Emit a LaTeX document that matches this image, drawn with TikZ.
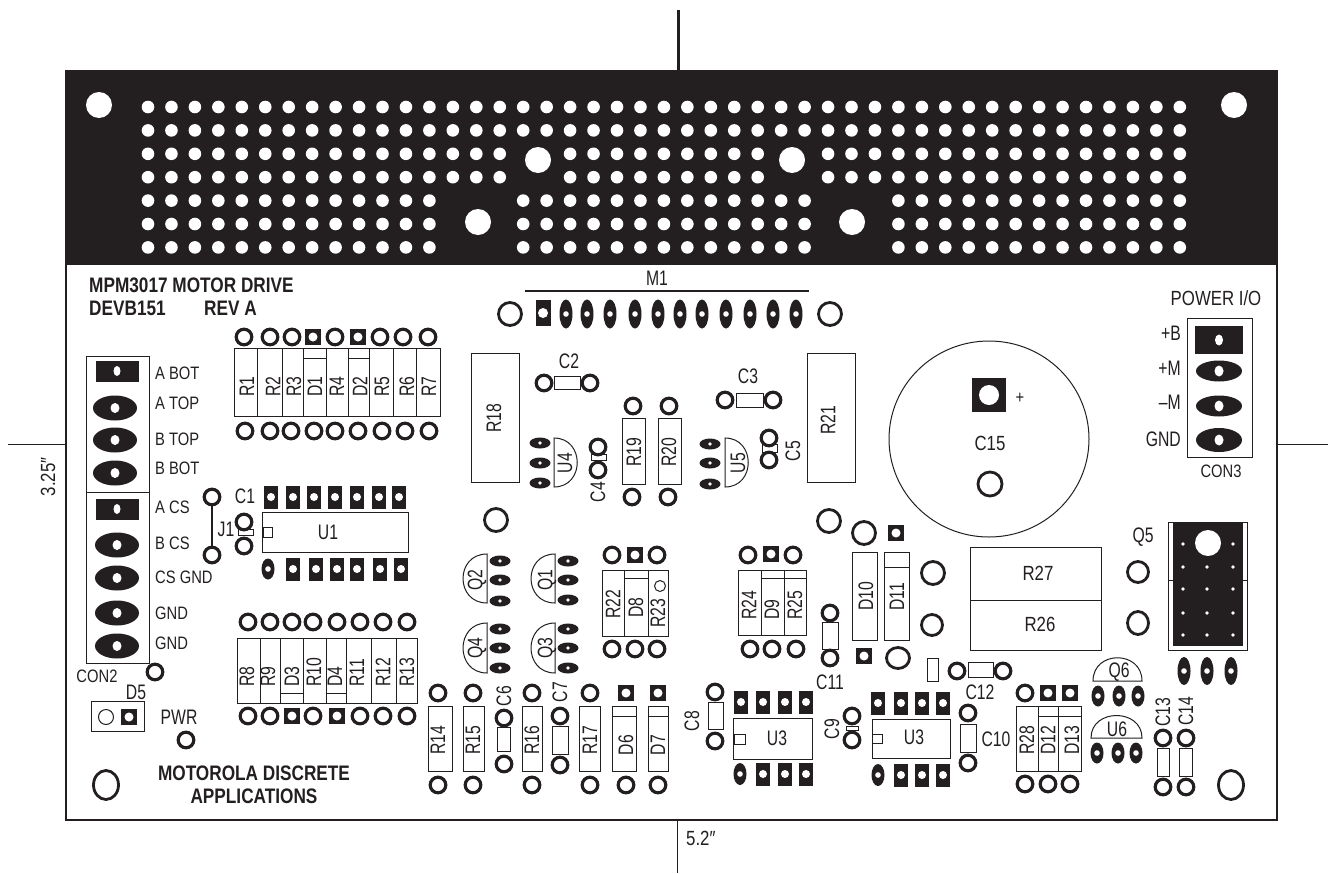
\documentclass[tikz,border=0pt]{standalone}
\usepackage{fontspec}
\setmainfont[FakeStretch=0.82]{Liberation Sans}
\newfontfamily\tallfont[FakeStretch=0.75]{Liberation Sans}
\definecolor{ink}{HTML}{231F20}
\tikzset{
  lbl/.style={inner sep=0pt, text=ink, font=\tallfont\fontsize{21}{21}\selectfont},
  lblcon/.style={inner sep=0pt, text=ink, font=\fontsize{18}{18}\selectfont},
  lblwide/.style={inner sep=0pt, text=ink, font=\fontsize{20.5}{21}\selectfont},
  lblbf/.style={inner sep=0pt, text=ink, font=\fontsize{21}{23}\selectfont\bfseries, align=center},
  vlbl/.style={lbl, rotate=90},
  vlblb/.style={lbl, rotate=90, anchor=west},
  partbox/.style={draw=ink, fill=white, line width=1pt},
  ringpad/.style={draw=ink, fill=white, line width=3.2pt},
  thinline/.style={draw=ink, line width=1pt}
}
\begin{document}
\begin{tikzpicture}[x=1pt,y=-1pt]
    \useasboundingbox (0,0) rectangle (1328,873);
    % board and dimension lines
    \draw[ink, line width=1.2pt] (66,71) rectangle (1277,820);
    \fill[ink] (66,71) rectangle (1277,265);
    \draw[ink, line width=3pt] (678,10) -- (678,71);
    \draw[thinline] (677,820) -- (677,873);
    \draw[thinline] (8,444) -- (66,444);
    \draw[thinline] (1277,444) -- (1328,444);
    \node[lblwide, rotate=90] (height) at (48,477) {3.25″};
    \node[lblwide, anchor=west] (width) at (686,838) {5.2″};
    % holes in the black strip
    \foreach \r/\from/\to in {0/0/44, 1/0/44, 2/0/15, 2/18/26, 2/29/44, 3/0/15, 3/18/26, 3/29/44,
      4/0/12, 4/16/28, 4/32/44, 5/0/12, 5/16/28, 5/32/44, 6/0/12, 6/16/28, 6/32/44}
    {
      \foreach \c in {\from,...,\to}
        \fill[white] ({148+23.45*\c},{107+23.4*\r}) circle (6.3);
    }
    \foreach \x/\y in {99/105, 1234/105, 538/160, 792/160, 478/222, 852/222}
      \fill[white] (\x,\y) circle (13);
    % title texts
    \node[lblbf, anchor=west] (title) at (89,285) {MPM3017 MOTOR DRIVE};
    \node[lblbf, anchor=west] (devb) at (89,308) {DEVB151};
    \node[lblbf, anchor=west] (rev) at (204,308) {REV A};
    \node[lblbf] (maker) at (254,785) {MOTOROLA DISCRETE\\APPLICATIONS};
    % part outlines
    \foreach \a/\b/\c/\d in {
      234/348/257/416, 257/348/282/416, 282/348/303/416, 303/348/326/416, 326/348/348/416,
      348/348/369/416, 369/348/393/416, 393/348/416/416, 416/348/440/416,
      237/638/260/703, 260/638/280/703, 280/638/303/703, 303/638/326/703, 326/638/346/703,
      346/638/371/703, 371/638/396/703, 396/638/417/703,
      428/706/452/771, 463/706/484/771, 522/706/542/771, 579/706/600/771, 612/706/636/771, 648/706/668/771,
      497/727/510/751, 552/726/568/754, 708/702/723/729,
      471/353/519/482, 807/353/855/482, 622/418/645/484, 658/418/681/484,
      554/376/580/389, 736/393/763/407, 591/454/606/460, 762/444/777/452,
      602/570/624/636, 624/570/648/636, 648/570/668/636,
      738/570/761/635, 761/570/784/635, 784/570/806/635, 822/622/838/649,
      262/512/408/552, 263/527/272/537, 238/529/253/535,
      733/718/812/759, 734/734/745/744, 872/719/950/758, 872/734/882/743,
      846/726/858/730, 960/724/976/752, 968/662/993/677, 927/658/938/681,
      1016/706/1038/771, 1038/706/1058/771, 1058/706/1081/771,
      852/552/877/640, 884/552/909/640, 970/547/1101/600, 970/600/1101/650,
      1157/748/1169/776, 1179/748/1192/776,
      86/356/149/492, 86/492/149/663, 91/701/144/731, 1187/318/1252/457}
      \draw[partbox] (\a,\b) rectangle (\c,\d);
    % diode bars
    \foreach \a/\b/\y in {303/326/358, 348/369/358, 280/303/693, 326/346/693, 612/636/716, 648/668/716,
      624/648/578, 761/806/578, 1038/1081/716, 884/909/567}
      \draw[thinline] (\a,\y) -- (\b,\y);
    % capacitor C15
    \draw[thinline] (989,439) ellipse (100 and 98);
    % half round parts, flat side first
    \foreach \f/\t/\b/\c in {487/554/603/455, 555/554/603/523, 487/623/673/455, 555/623/673/523,
      554/438/487/585, 725/438/487/756}
      \draw[thinline] (\f,\t) .. controls (\c,\t) and (\c,\b) .. (\f,\b) -- cycle;
    \draw[thinline] (1093,681) .. controls (1093,650) and (1142,650) .. (1142,681) -- cycle;
    \draw[thinline] (1091,738) .. controls (1091,708) and (1142,708) .. (1142,738) -- cycle;
    % jumper J1
    \draw[ink, line width=2.6pt] (212,497) -- (212,555);
    % round pads
    \foreach \x/\y in {
      244/337, 270/337, 292/337, 335/337, 380/337, 403/337, 428/337,
      245/431, 270/431, 291/431, 314/431, 335/431, 358/431, 382/431, 405/431, 429/431,
      248/622, 270/622, 292/622, 313/622, 337/622, 360/622, 383/622, 407/622,
      248/716, 270/716, 313/716, 360/716, 383/716, 407/716,
      212/497, 212/555, 244/522, 244/546, 155/672, 186/740,
      438/693, 438/785, 473/693, 473/785, 504/718, 504/764, 532/693, 532/785,
      560/716, 560/765, 590/693, 590/785, 626/785, 658/785, 715/692, 715/741,
      544/383, 590/383, 725/400, 773/400, 598/447, 598/470, 769/438, 769/460,
      633/406, 632/497, 669/406, 668/497,
      612/555, 657/555, 612/649, 635/649, 657/649, 748/555, 793/555, 750/649, 772/649, 796/649,
      830/613, 830/658, 852/716, 852/740, 968/713, 968/763, 957/671, 1003/671,
      1025/693, 1025/784, 1048/784, 1070/784, 1163/738, 1163/787, 1186/738, 1186/787}
      \draw[ringpad] (\x,\y) circle (7.8);
    % large round pads
    \foreach \x/\y/\rx/\ry in {
      510/314/11.5/11.5, 830/314/11.5/11.5, 496/520/11.5/11.5, 829/521/11.5/11.5,
      864/533/11.5/11.5, 898/658/11.5/10.5, 933/573/11.5/11.5, 932/625/10.5/10.5,
      1138/572/10.5/10.5, 1138/623/10.5/11.5, 990/484/12/12, 106/785/12.5/14.5, 1231/785/12.5/14.5}
      \draw[ink, fill=white, line width=2.8pt] (\x,\y) ellipse ({\rx} and {\ry});
    % thin circles
    \draw[thinline] (106,717) circle (7.5);
    \draw[thinline] (660,586) circle (5.5);
    % square pads
    \foreach \x/\y in {313/337, 358/337, 292/716, 337/716, 129/717, 626/693, 658/693,
      635/555, 771/554, 864/656, 896/533, 1048/693, 1070/693}
    {
      \fill[ink] (\x-8,\y-8) rectangle (\x+8,\y+8);
      \fill[white] (\x,\y) circle (4.5);
    }
    \fill[ink] (972,378) rectangle (1006,412);
    \fill[white] (989,395) circle (10);
    % tall pads of the ICs
    \foreach \x/\y in {271/497, 293/497, 314/497, 335/497, 357/497, 379/497, 399/497,
      293/569, 316/569, 337/569, 357/569, 380/569, 401/569,
      741/702, 763/702, 785/702, 806/702, 763/774, 785/774, 806/774,
      878/703, 901/703, 922/703, 943/703, 901/775, 922/775, 943/775}
    {
      \fill[ink] (\x-7,\y-11.5) rectangle (\x+7,\y+11.5);
      \fill[white] (\x,\y) circle (4);
    }
    \fill[ink] (536,300) rectangle (551,326);
    \fill[white] (543,313) circle (5);
    % upright oval pads
    \foreach \x/\y/\ry in {268/569/10.5, 740/774/11, 878/775/11,
      566/314/14.5, 587/314/14.5, 610/314/14.5, 635/314/14.5, 658/314/14.5, 680/314/14.5,
      702/314/14.5, 726/314/14.5, 750/314/14.5, 773/314/14.5, 796/314/14.5,
      1184/671/14, 1207/671/14, 1231/671/14,
      1098/696/10.5, 1119/696/10.5, 1138/696/10.5, 1097/753/10.5, 1118/753/10.5, 1136/753/10.5}
    {
      \fill[ink] (\x,\y) ellipse (6.5 and {\ry});
      \fill[white] (\x,\y) circle (2.8);
    }
    % small flat oval pads of the transistors
    \foreach \x/\y in {540/443, 540/463, 540/483, 710/444, 710/463, 710/484,
      500/561, 500/580, 500/601, 568/561, 568/580, 568/600,
      500/629, 500/648, 500/668, 568/629, 568/648, 568/668}
    {
      \fill[ink] (\x,\y) ellipse (10.5 and 5.5);
      \fill[white] (\x,\y) circle (1.8);
    }
    % connector pads
    \foreach \x/\y in {115/408, 115/440, 115/473, 117/545, 117/578, 117/613, 117/646}
    {
      \fill[ink] (\x,\y) ellipse (22 and 12.5);
      \fill[white] (\x,\y) ellipse (4.5 and 5);
    }
    \foreach \y/\ry in {371/10.5, 406/10.5, 440/12}
    {
      \fill[ink] (1219,\y) ellipse (23 and {\ry});
      \fill[white] (1219,\y) ellipse (4.5 and 5.5);
    }
    \foreach \y in {371,509}
    {
      \fill[ink] (96,\y-10.5) rectangle (139,\y+10.5);
      \fill[white] (117,\y) ellipse (3.5 and 5);
    }
    \fill[ink] (1195,326) rectangle (1243,354);
    \fill[white] (1219,340) ellipse (4 and 5.5);
    % heat sink Q5
    \draw[thinline] (1168,522) rectangle (1247,650);
    \draw[thinline] (1168,580) -- (1173,580) (1243,580) -- (1247,580);
    \fill[ink] (1173,522) rectangle (1243,646);
    \fill[white] (1208,543) circle (13);
    \foreach \x/\y in {1183/544, 1233/544}
      \fill[white] (\x,\y) circle (1.8);
    \foreach \y in {567,589,613,635}
      \foreach \x in {1183,1207,1233}
        \fill[white] (\x,\y) circle (1.8);
    % M1 bar
    \draw[ink, line width=1.6pt] (525,291) -- (809,291);
    % labels, left side
    \foreach \y/\t in {373/A BOT, 403/A TOP, 439/B TOP, 468/B BOT, 507/A CS, 543/B CS}
      \node[lblcon, anchor=west] (\t) at (155,\y) {\t};
    \node[lblcon, anchor=west] (csgnd) at (155,577) {CS GND};
    \node[lblcon, anchor=west] (gnda) at (155,613) {GND};
    \node[lblcon, anchor=west] (gndb) at (155,643) {GND};
    \node[lblcon] (CON2) at (97,676) {CON2};
    % labels, right side
    \node[lbl, anchor=east] (plusb) at (1181,333) {+B};
    \node[lbl, anchor=east] (plusm) at (1181,368) {+M};
    \node[lbl, anchor=east] (minusm) at (1181,402) {–M};
    \node[lbl, anchor=east] (gndc) at (1181,439) {GND};
    \node[lblwide] (power) at (1216,298) {POWER I/O};
    \node[lblcon] (CON3) at (1221,471) {CON3};
    \node[lblcon] (plus) at (1020,398) {+};
    % horizontal labels
    \foreach \x/\y/\t in {136/692/D5, 179/717/PWR, 245/496/C1, 226/529/J1, 328/532/U1,
      657/278/M1, 569/361/C2, 748/376/C3, 830/682/C11, 980/692/C12, 996/739/C10,
      1143/537/Q5, 1119/672/Q6, 1117/729/U6}
      \node[lbl] (\t) at (\x,\y) {\t};
    \foreach \x/\y/\t in {990/443/C15, 1038/573/R27, 1040/624/R26}
      \node[lblwide] (\t) at (\x,\y) {\t};
    \node[lbl] (U3a) at (777,738) {U3};
    \node[lbl] (U3b) at (914,737) {U3};
    % rotated labels, centred
    \foreach \x/\y/\t in {494/418/R18, 828/420/R21, 634/452/R19, 669/452/R20, 565/463/U4, 738/463/U5,
      598/492/C4, 793/451/C5, 477/580/Q2, 547/580/Q1, 477/648/Q4, 547/648/Q3,
      438/740/R14, 473/740/R15, 532/740/R16, 590/740/R17, 626/745/D6, 658/745/D7,
      504/696/C6, 560/692/C7, 692/721/C8, 832/729/C9, 866/596/D10, 897/597/D11, 1163/712/C13, 1186/711/C14}
      \node[vlbl] (\t) at (\x,\y) {\t};
    % rotated labels, from their foot
    \foreach \x/\y/\t in {247/397/R1, 273/397/R2, 294/397/R3, 315/397/D1, 337/397/R4, 360/397/D2,
      382/397/R5, 407/397/R6, 429/397/R7,
      247/687/R8, 268/687/R9, 292/687/D3, 314/687/R10, 335/687/D4, 357/687/R11, 383/687/R12, 407/687/R13,
      613/619/R22, 636/618/D8, 658/628/R23, 749/620/R24, 772/620/D9, 795/620/R25,
      1027/755/R28, 1048/755/D12, 1072/755/D13}
      \node[vlblb] (\t) at (\x,\y) {\t};
\end{tikzpicture}
\end{document}
